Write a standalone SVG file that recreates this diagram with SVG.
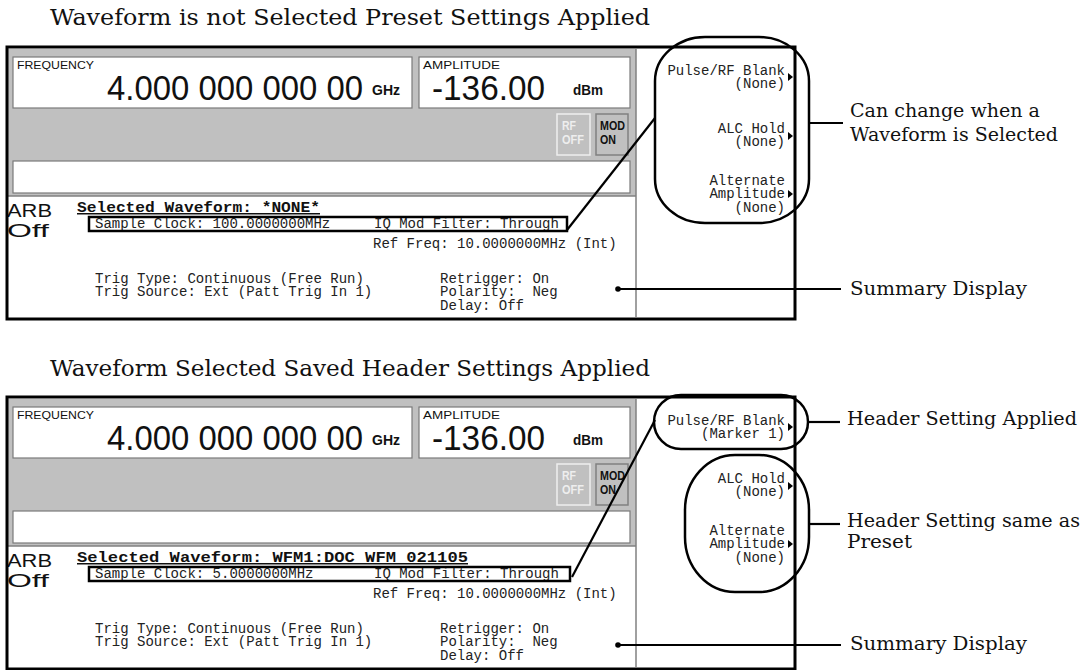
<svg xmlns="http://www.w3.org/2000/svg" width="1088" height="670" viewBox="0 0 1088 670">
<defs>
<style>
.title{font-family:"DejaVu Serif","Liberation Serif",serif;font-size:22px;fill:#111}
.lab{font-family:"DejaVu Serif","Liberation Serif",serif;font-size:19px;fill:#111}
.mono{font-family:"Liberation Mono","DejaVu Sans Mono",monospace;font-size:14px;fill:#222}
.bmono{font-family:"Liberation Mono","DejaVu Sans Mono",monospace;font-size:15px;font-weight:bold;fill:#111;text-decoration:underline}
.sans{font-family:"Liberation Sans","DejaVu Sans",sans-serif;fill:#111}
.bsans{font-family:"Liberation Sans","DejaVu Sans",sans-serif;font-weight:bold;fill:#111}
.gray{fill:#c0c0c0}
.box{fill:#fff;stroke:#7a7a7a;stroke-width:1.2}
.frame{fill:none;stroke:#000;stroke-width:3}
.hl{fill:none;stroke:#000;stroke-width:2.5}
.pill{fill:none;stroke:#000;stroke-width:2.5}
.conn{stroke:#000;stroke-width:2.2;fill:none}
.sep{stroke:#808080;stroke-width:1.5}
</style>
<g id="screen">
  <rect x="7" y="47" width="788" height="272" fill="#fff"/>
  <rect x="8" y="49" width="628" height="147" class="gray"/>
  <rect x="13" y="57" width="399" height="51" class="box"/>
  <rect x="419" y="57" width="211" height="51" class="box"/>
  <rect x="13" y="161" width="617" height="32" class="box"/>
  <rect x="557" y="114" width="33" height="41" fill="#c0c0c0" stroke="#eeeeee" stroke-width="1.5"/>
  <rect x="596" y="114" width="32" height="41" fill="#c0c0c0" stroke="#808080" stroke-width="1.5"/>
  <line x1="8" y1="196" x2="636" y2="196" class="sep"/>
  <line x1="636" y1="49" x2="636" y2="317" class="sep"/>
  <text x="17" y="69" class="sans" font-size="11" textLength="77" lengthAdjust="spacingAndGlyphs">FREQUENCY</text>
  <text x="107" y="100" class="sans" font-size="35" textLength="256" lengthAdjust="spacingAndGlyphs">4.000 000 000 00</text>
  <text x="372" y="95" class="bsans" font-size="14" textLength="28" lengthAdjust="spacingAndGlyphs">GHz</text>
  <text x="423" y="69" class="sans" font-size="11" textLength="77" lengthAdjust="spacingAndGlyphs">AMPLITUDE</text>
  <text x="432" y="100" class="sans" font-size="35" textLength="113" lengthAdjust="spacingAndGlyphs">-136.00</text>
  <text x="573" y="95" class="bsans" font-size="14" textLength="30" lengthAdjust="spacingAndGlyphs">dBm</text>
  <text x="562" y="130" class="bsans" font-size="12" style="fill:#eeeeee" textLength="14" lengthAdjust="spacingAndGlyphs">RF</text>
  <text x="562" y="144" class="bsans" font-size="12" style="fill:#eeeeee" textLength="22" lengthAdjust="spacingAndGlyphs">OFF</text>
  <text x="600" y="130" class="bsans" font-size="12" textLength="25" lengthAdjust="spacingAndGlyphs">MOD</text>
  <text x="600" y="144" class="bsans" font-size="12" textLength="16" lengthAdjust="spacingAndGlyphs">ON</text>
  <text x="7" y="217" class="sans" font-size="18" textLength="45" lengthAdjust="spacingAndGlyphs">ARB</text>
  <text x="7" y="237" class="sans" font-size="18" textLength="42" lengthAdjust="spacingAndGlyphs">Off</text>
  <text x="374" y="228" class="mono">IQ Mod Filter: Through</text>
  <text x="373" y="248" class="mono">Ref Freq: 10.0000000MHz (Int)</text>
  <text x="95" y="283" class="mono">Trig Type: Continuous (Free Run)</text>
  <text x="95" y="296" class="mono">Trig Source: Ext (Patt Trig In 1)</text>
  <text x="440" y="283" class="mono">Retrigger: On</text>
  <text x="440" y="296" class="mono" xml:space="preserve">Polarity:  Neg</text>
  <text x="440" y="310" class="mono">Delay: Off</text>
  <text x="785" y="185" class="mono" text-anchor="end">Alternate</text>
  <text x="785" y="198" class="mono" text-anchor="end">Amplitude</text>
  <text x="785" y="212" class="mono" text-anchor="end">(None)</text>
  <polygon points="788,190 793,194 788,198"/>
  <text x="785" y="75" class="mono" text-anchor="end">Pulse/RF Blank</text>
  <polygon points="788,73 793,77 788,81"/>
  <text x="785" y="133" class="mono" text-anchor="end">ALC Hold</text>
  <text x="785" y="146" class="mono" text-anchor="end">(None)</text>
  <polygon points="788,132 793,136 788,140"/>
  <rect x="7" y="47" width="788" height="272" class="frame"/>
</g>
</defs>

<g id="title-top"><text x="50" y="25" class="title" textLength="600" lengthAdjust="spacingAndGlyphs">Waveform is not Selected Preset Settings Applied</text></g>

<g id="panel-top">
  <use href="#screen"/>
  <text x="785" y="88" class="mono" text-anchor="end">(None)</text>
  <text x="77" y="212" class="bmono" textLength="243" lengthAdjust="spacingAndGlyphs">Selected Waveform: *NONE*</text>
  <text x="95" y="228" class="mono">Sample Clock: 100.0000000MHz</text>
  <rect x="89" y="217" width="478" height="14" class="hl"/>
</g>

<g id="callout-top"><rect x="655" y="37" width="154" height="186" rx="50" ry="44" class="pill"/></g>
<g id="label-can-change">
  <text x="850" y="117" class="lab" textLength="190" lengthAdjust="spacingAndGlyphs">Can change when a</text>
  <text x="850" y="141" class="lab" textLength="208" lengthAdjust="spacingAndGlyphs">Waveform is Selected</text>
</g>
<g id="label-summary-top"><text x="850" y="295" class="lab" textLength="177" lengthAdjust="spacingAndGlyphs">Summary Display</text></g>

<g id="title-bottom"><text x="50" y="376" class="title" textLength="600" lengthAdjust="spacingAndGlyphs">Waveform Selected Saved Header Settings Applied</text></g>

<g id="panel-bottom" transform="translate(0,350)">
  <use href="#screen"/>
  <text x="785" y="88" class="mono" text-anchor="end">(Marker 1)</text>
  <text x="77" y="212" class="bmono" textLength="391" lengthAdjust="spacingAndGlyphs">Selected Waveform: WFM1:DOC WFM 021105</text>
  <text x="95" y="228" class="mono">Sample Clock: 5.0000000MHz</text>
  <rect x="89" y="217" width="481" height="14" class="hl"/>
</g>

<g id="callout-header-applied"><rect x="654" y="395" width="154" height="54" rx="27" ry="27" class="pill"/></g>
<g id="callout-header-same"><rect x="685" y="455" width="124" height="137" rx="50" ry="55" class="pill"/></g>
<g id="label-header-applied"><text x="847" y="425" class="lab" textLength="230" lengthAdjust="spacingAndGlyphs">Header Setting Applied</text></g>
<g id="label-header-same">
  <text x="847" y="527" class="lab" textLength="233" lengthAdjust="spacingAndGlyphs">Header Setting same as</text>
  <text x="847" y="548" class="lab" textLength="65" lengthAdjust="spacingAndGlyphs">Preset</text>
</g>
<g id="label-summary-bottom"><text x="850" y="650" class="lab" textLength="177" lengthAdjust="spacingAndGlyphs">Summary Display</text></g>

<g id="connectors">
  <line x1="567" y1="230" x2="655" y2="118" class="conn"/>
  <line x1="809" y1="123" x2="843" y2="123" class="conn"/>
  <circle cx="618" cy="289" r="2.8"/>
  <line x1="618" y1="289" x2="841" y2="289" class="conn"/>
  <line x1="572" y1="577" x2="655" y2="420" class="conn"/>
  <line x1="808" y1="422" x2="840" y2="422" class="conn"/>
  <line x1="809" y1="524" x2="840" y2="524" class="conn"/>
  <circle cx="618" cy="645" r="2.8"/>
  <line x1="618" y1="645" x2="841" y2="645" class="conn"/>
</g>
</svg>
